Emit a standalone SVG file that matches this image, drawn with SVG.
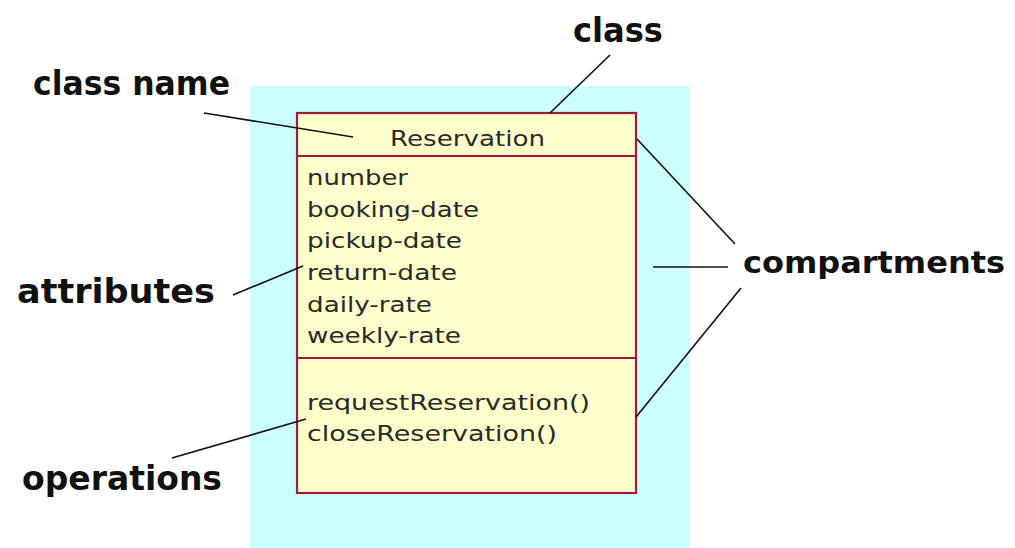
<svg xmlns="http://www.w3.org/2000/svg" width="1015" height="548" viewBox="0 0 1015 548">
  <style>
    .label { font-family: "DejaVu Sans", "Liberation Sans", sans-serif; font-weight: bold; font-size: 34px; fill: #111; }
    .label.wide { font-size: 31px; }
    .member { font-family: "DejaVu Sans", "Liberation Sans", sans-serif; font-size: 22px; fill: #2a2a2a; }
    .box { fill: #ffffcc; stroke: #a01a3c; stroke-width: 2.2; }
    .divider { stroke: #a01a3c; stroke-width: 2.2; }
    .leader { stroke: #111; stroke-width: 1.6; fill: none; }
  </style>
  <rect width="1015" height="548" fill="#ffffff"/>

  <!-- class region -->
  <rect id="backdrop" x="250" y="86" width="440" height="462" fill="#ccffff"/>

  <!-- the Reservation class with its three compartments -->
  <g id="reservation-class">
    <rect class="box" x="297" y="113" width="339" height="380"/>
    <line class="divider" x1="297" y1="156" x2="636" y2="156"/>
    <line class="divider" x1="297" y1="358" x2="636" y2="358"/>
    <text class="member" x="390" y="146" textLength="155" lengthAdjust="spacingAndGlyphs">Reservation</text>
    <text class="member" x="307" y="185" textLength="101" lengthAdjust="spacingAndGlyphs">number</text>
    <text class="member" x="307" y="217" textLength="172" lengthAdjust="spacingAndGlyphs">booking-date</text>
    <text class="member" x="307" y="248" textLength="155" lengthAdjust="spacingAndGlyphs">pickup-date</text>
    <text class="member" x="307" y="280" textLength="150" lengthAdjust="spacingAndGlyphs">return-date</text>
    <text class="member" x="307" y="312" textLength="125" lengthAdjust="spacingAndGlyphs">daily-rate</text>
    <text class="member" x="307" y="343" textLength="154" lengthAdjust="spacingAndGlyphs">weekly-rate</text>
    <text class="member" x="307" y="410" textLength="283" lengthAdjust="spacingAndGlyphs">requestReservation()</text>
    <text class="member" x="307" y="441" textLength="250" lengthAdjust="spacingAndGlyphs">closeReservation()</text>
  </g>

  <!-- callout labels -->
  <g id="label-class"><text class="label" x="573" y="42" textLength="90" lengthAdjust="spacingAndGlyphs">class</text></g>
  <g id="label-class-name"><text class="label" x="33" y="95" textLength="197" lengthAdjust="spacingAndGlyphs">class name</text></g>
  <g id="label-attributes"><text class="label" x="17" y="303" textLength="198" lengthAdjust="spacingAndGlyphs">attributes</text></g>
  <g id="label-operations"><text class="label" x="22" y="490" textLength="200" lengthAdjust="spacingAndGlyphs">operations</text></g>
  <g id="label-compartments"><text class="label wide" x="743" y="273" textLength="262" lengthAdjust="spacingAndGlyphs">compartments</text></g>

  <!-- leader lines -->
  <g id="connectors">
    <line class="leader" x1="610" y1="55" x2="550" y2="113"/>
    <line class="leader" x1="204" y1="113" x2="353" y2="137"/>
    <line class="leader" x1="233" y1="295" x2="303" y2="266"/>
    <line class="leader" x1="172" y1="458" x2="306" y2="419"/>
    <line class="leader" x1="637" y1="139" x2="735" y2="244"/>
    <line class="leader" x1="653" y1="267" x2="728" y2="267"/>
    <line class="leader" x1="636" y1="417" x2="741" y2="288"/>
  </g>
</svg>
